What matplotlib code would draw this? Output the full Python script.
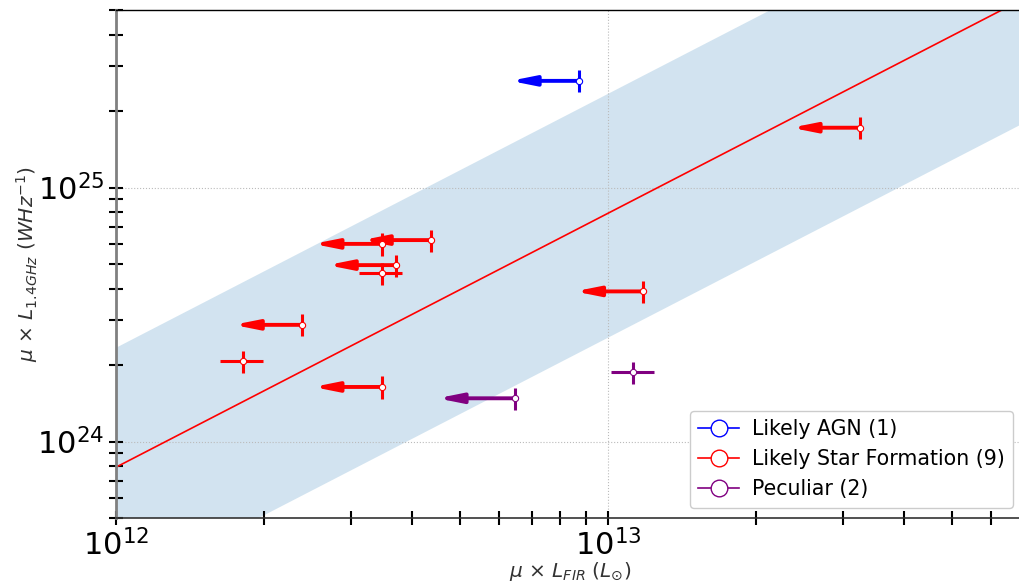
import numpy as np
import matplotlib
matplotlib.use("Agg")
import matplotlib.pyplot as plt
from matplotlib.lines import Line2D

# Far-infrared vs radio luminosity (magnification-weighted)
agn_x = [8.73e12]
agn_y = [2.63e25]
agn_upper = [True]

sf_x = [3.25e13, 4.37e12, 3.47e12, 3.71e12, 3.47e12, 2.39e12, 1.81e12, 3.47e12, 1.18e13]
sf_y = [1.72e25, 6.21e24, 6.00e24, 4.95e24, 4.60e24, 2.88e24, 2.07e24, 1.64e24, 3.90e24]
sf_upper = [True, True, True, True, False, True, False, True, True]

pec_x = [6.47e12, 1.125e13]
pec_y = [1.48e24, 1.87e24]
pec_upper = [True, False]

# fractional uncertainties and upper-limit arrow extent
frac_err = 0.1
arrow_frac = {"agn": 0.725, "sf": 0.725, "pec": 0.695}

# FIR-radio correlation: q = log(L_FIR / 3.75e12 W) - log(L_1.4GHz)
L_sun = 3.828e26
q_fir = 2.11
q_scatter_up = 0.47
q_scatter_down = 0.49

groups = [
    ("agn", agn_x, agn_y, agn_upper, "blue", "Likely AGN (1)"),
    ("sf", sf_x, sf_y, sf_upper, "red", "Likely Star Formation (9)"),
    ("pec", pec_x, pec_y, pec_upper, "purple", "Peculiar (2)"),
]

xlim = (1e12, 7e13)
ylim = (5e23, 5e25)

fig = plt.figure(figsize=(10.2, 5.88), dpi=100)
ax = fig.add_axes([116 / 1020, 70 / 588, (1024 - 116) / 1020, (518 - 10) / 588])
ax.set_xscale("log")
ax.set_yscale("log")

# correlation line and scatter band
xx = np.logspace(np.log10(xlim[0]), np.log10(xlim[1]), 200)
log_radio = np.log10(xx * L_sun / 3.75e12) - q_fir
ax.fill_between(xx, 10 ** (log_radio - q_scatter_down), 10 ** (log_radio + q_scatter_up),
                color="C0", alpha=0.2, lw=0, zorder=1)
ax.plot(xx, 10 ** log_radio, color="red", lw=1.2, zorder=2)

for key, xs, ys, ups, col, lab in groups:
    for x, y, up in zip(xs, ys, ups):
        xerr = None if up else [[x * frac_err], [x * frac_err]]
        ax.errorbar([x], [y], yerr=[[y * frac_err], [y * frac_err]], xerr=xerr,
                    fmt="none", ecolor=col, elinewidth=2.2, capsize=0, zorder=3)
        if up:
            ax.annotate("", xy=(x * arrow_frac[key], y), xytext=(x, y),
                        arrowprops=dict(arrowstyle="-|>,head_length=1.4,head_width=0.28",
                                        color=col, lw=2.8, mutation_scale=10,
                                        shrinkA=0, shrinkB=0),
                        zorder=3)
        ax.plot([x], [y], "o", ms=4.5, mfc="white", mec=col, mew=0.8, zorder=4)

ax.set_xlim(*xlim)
ax.set_ylim(*ylim)

ax.grid(True, which="major", ls=":", color="#bbbbbb", lw=0.8)
ax.tick_params(which="both", direction="inout", length=10, width=1.5, color="black")
ax.tick_params(which="major", labelsize=22)
ax.tick_params(axis="x", pad=3)

ax.spines["left"].set_color("gray")
ax.spines["left"].set_linewidth(2)
ax.spines["bottom"].set_color("#333333")
ax.spines["bottom"].set_linewidth(1.2)
ax.spines["top"].set_color("black")
ax.spines["top"].set_linewidth(1)

ax.set_xlabel(r"$\mu$ × $L_{FIR}$ $(L_{\odot})$", fontsize=14.5, color="#333333", labelpad=-1)
ax.set_ylabel(r"$\mu$ × $L_{1.4GHz}$ $(WHz^{-1})$", fontsize=14.5, color="#333333", labelpad=-2)

handles = [Line2D([0], [0], color=c, marker="o", ms=12, mfc="white", mec=c, lw=1.2)
           for _, _, _, _, c, _ in groups]
labels = [g[5] for g in groups]
ax.legend(handles, labels, loc="lower right", fontsize=14.8, framealpha=1,
          handletextpad=0.6, bbox_to_anchor=(0.999, 0.0), borderaxespad=0.5)

fig.savefig("out.png", dpi=100)
